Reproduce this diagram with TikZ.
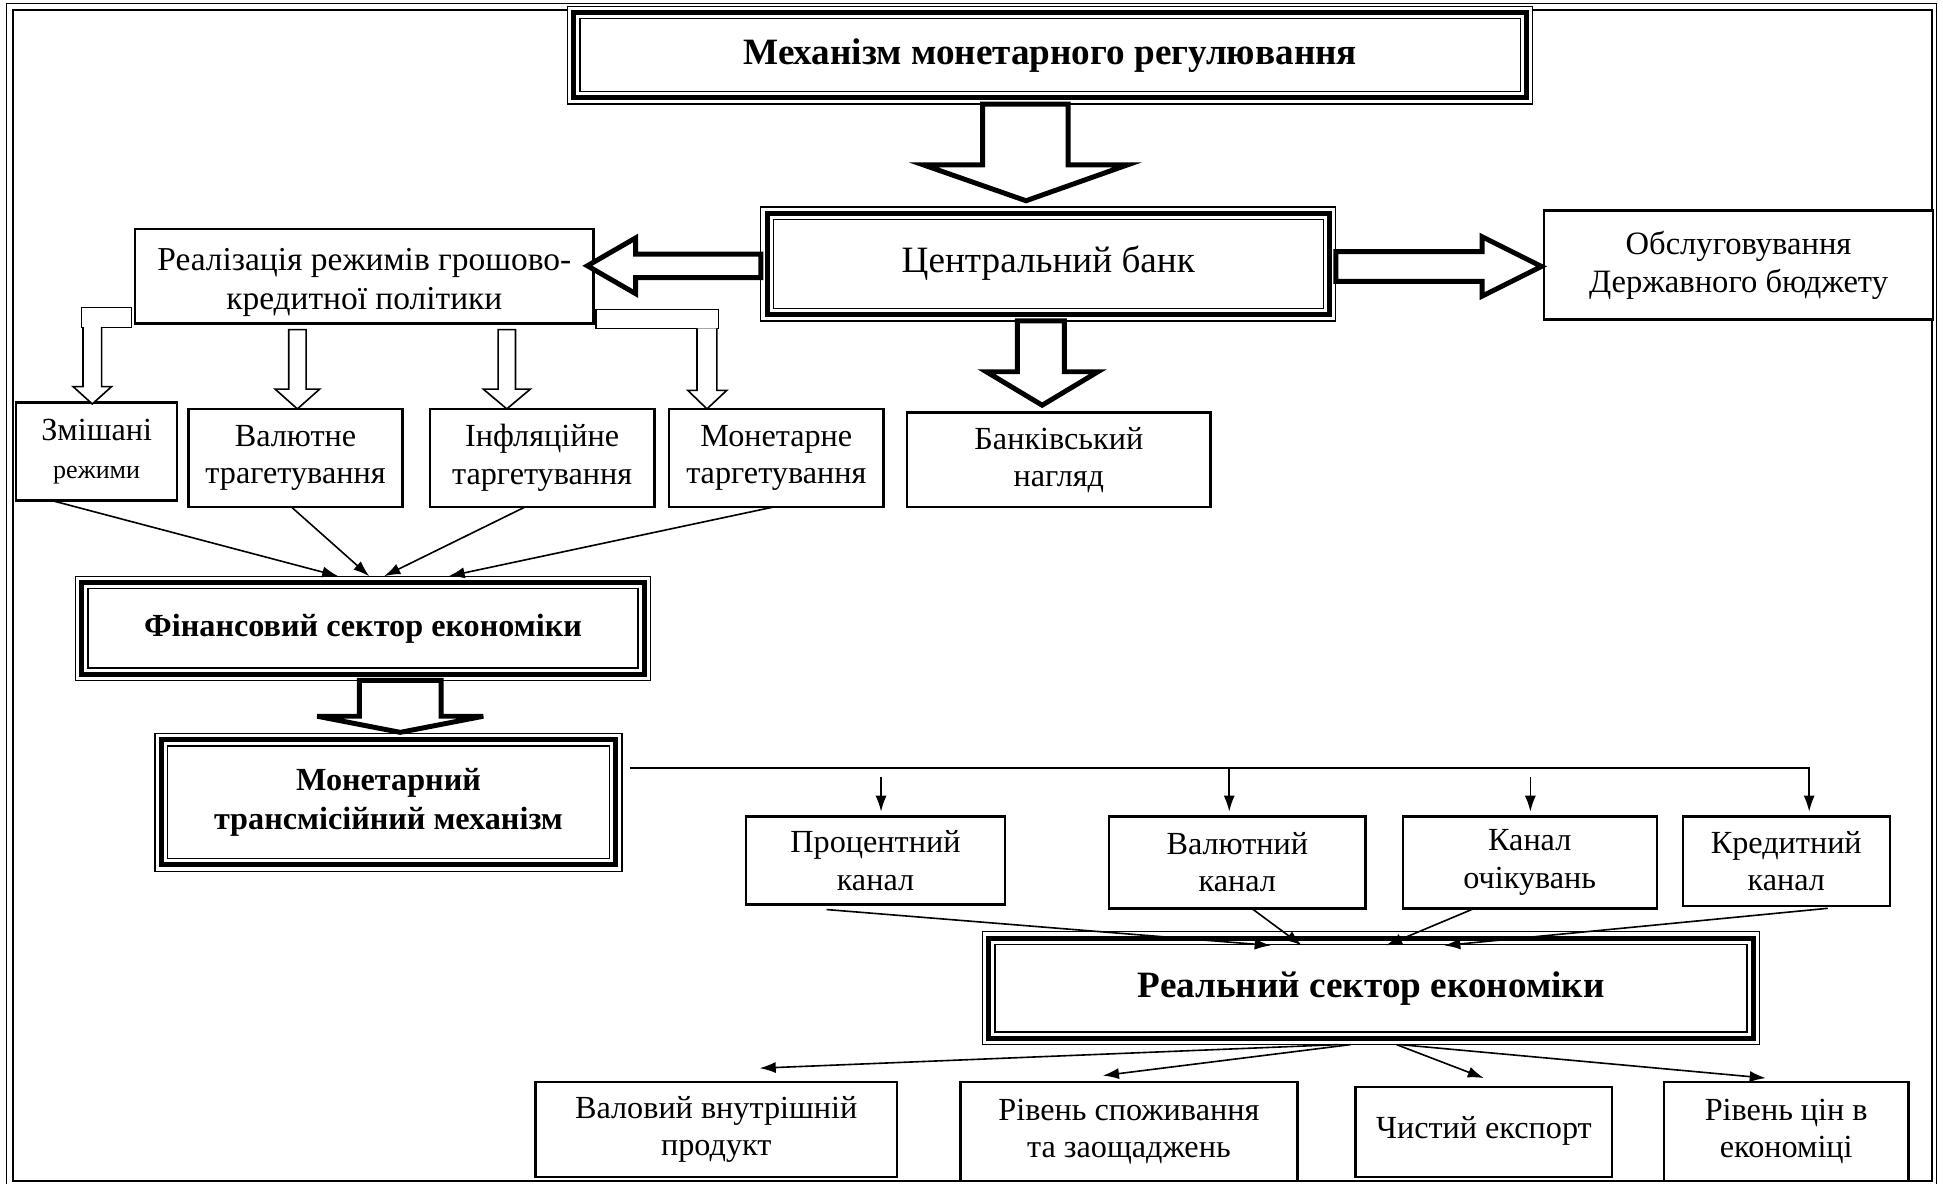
\documentclass[tikz,border=0pt]{standalone}
\usepackage{fontspec}
\setmainfont{Liberation Serif}
\usetikzlibrary{arrows.meta,calc}
\newcommand{\tframe}[1]{%
 \draw[line width=4pt] ([shift={(5pt,-5pt)}]#1.north west) rectangle ([shift={(-5pt,5pt)}]#1.south east);
 \draw[line width=1.2pt] ([shift={(10pt,-10pt)}]#1.north west) rectangle ([shift={(-10pt,10pt)}]#1.south east);}
\begin{document}
\begin{tikzpicture}[x=1pt,y=-1pt,
 box/.style={draw, line width=2pt, inner sep=2pt, outer sep=0pt, align=center, fill=white, font=\fontsize{26}{30}\selectfont},
 tribox/.style={draw, line width=1pt, inner sep=2pt, outer sep=0pt, align=center, fill=white, font=\bfseries\fontsize{27}{32}\selectfont},
 hollow/.style={draw, fill=white, line width=4pt, line join=miter},
 hollowthin/.style={draw, fill=white, line width=1.3pt, line join=miter},
 conn/.style={line width=1.3pt, -{Latex[length=13pt,width=9pt]}},
 stub/.style={draw, line width=1pt, inner sep=0pt, outer sep=0pt, fill=white},
]
\useasboundingbox (0,0) rectangle (1568,955);
% frame
\draw[line width=1pt] (5.5,3) rectangle (1563,958);
\draw[line width=2pt] (10.5,8) rectangle (1559,953);

% top boxes
\node[tribox, minimum width=779pt, minimum height=79pt, font=\bfseries\fontsize{30}{34}\selectfont] (title) at (847.5,44.5) {Механізм монетарного регулювання};
\tframe{title}
\node[tribox, minimum width=464pt, minimum height=92pt, font=\fontsize{30}{34}\selectfont] (cb) at (846,213) {\raisebox{8pt}{Центральний банк}};
\tframe{cb}
\node[box, minimum width=370pt, minimum height=76pt] (realiz) at (294,223) {};
\node[align=center, inner sep=0pt, font=\fontsize{27}{31}\selectfont] (realizt) at ([yshift=-5pt]realiz.center) {Реалізація режимів грошово-\\кредитної політики};
\node[box, minimum width=314pt, minimum height=88pt, font=\fontsize{26.3}{31}\selectfont] (obsl) at (1403,214) {Обслуговування\\Державного бюджету};

% hollow arrows
\draw[hollow] (793,84) -- (793,133) -- (745,133) -- (828,162) -- (910,133) -- (862,133) -- (862,84) -- cycle;
\draw[hollow] (614,205) -- (513,205) -- (513,192) -- (474,214.5) -- (513,237) -- (513,224) -- (614,224) -- cycle;
\draw[hollow] (1078,203) -- (1196,203) -- (1196,191) -- (1244,215) -- (1196,239) -- (1196,227) -- (1078,227) -- cycle;
\draw[hollow] (821,259) -- (821,300) -- (796,300) -- (841,327) -- (886,300) -- (859,300) -- (859,259) -- cycle;

% stubs
\node[stub, minimum width=40pt, minimum height=16pt] (s1) at (86,256) {};
\node[stub, minimum width=99pt, minimum height=15pt] (s2) at (530.5,257.5) {};

% second row boxes
\node[box, minimum width=130pt, minimum height=79pt] (zm) at (78,364.5) {Змішані\\{\fontsize{21}{24}\selectfont режими}};
\node[box, minimum width=173pt, minimum height=79pt] (val) at (238.5,369.5) {Валютне\\трагетування};
\node[box, minimum width=181pt, minimum height=79pt] (inf) at (437.5,369.5) {Інфляційне\\таргетування};
\node[box, minimum width=173pt, minimum height=79pt] (mon) at (626.5,369.5) {Монетарне\\таргетування};
\node[box, minimum width=245pt, minimum height=76pt] (bank) at (854.5,371) {Банківський\\нагляд};

% small hollow arrows
\draw[hollowthin] (67,264) -- (67,312) -- (59,312) -- (74.5,326) -- (90,312) -- (82,312) -- (82,264);
\draw[hollowthin] (233,266) -- (233,314) -- (222,314) -- (240,330) -- (258,314) -- (247,314) -- (247,266) -- cycle;
\draw[hollowthin] (402,266) -- (402,314) -- (390,314) -- (409,330) -- (428,314) -- (416,314) -- (416,266) -- cycle;
\draw[hollowthin] (562.5,265) -- (562.5,315) -- (555,315) -- (570.5,330) -- (586.5,315) -- (578.5,315) -- (578.5,265);

% financial sector
\node[tribox, minimum width=464pt, minimum height=84pt, font=\bfseries\fontsize{26}{30}\selectfont] (fin) at (293,507) {Фінансовий сектор економіки};
\tframe{fin}
\draw[conn] ([xshift=-36pt]zm.south) -- ([xshift=-20pt]fin.north);
\draw[conn] ([xshift=-3.5pt]val.south) -- ([xshift=5pt]fin.north);
\draw[conn] ([xshift=-13.5pt]inf.south) -- ([xshift=17pt]fin.north);
\draw[conn] ([xshift=-1.5pt]mon.south) -- ([xshift=69pt]fin.north);

% monetary transmission
\node[tribox, minimum width=377pt, minimum height=111pt, font=\bfseries\fontsize{26}{32}\selectfont] (mtm) at (313.5,647.5) {Монетарний\\трансмісійний механізм};
\tframe{mtm}
\draw[hollow] (290,549) -- (290,578) -- (256,578) -- (323,591) -- (390,578) -- (356,578) -- (356,549) -- cycle;

% channels
\node[box, minimum width=209pt, minimum height=71pt] (proc) at (706.5,694.5) {Процентний\\канал};
\node[box, minimum width=207pt, minimum height=74pt] (val2) at (998.5,696) {Валютний\\канал};
\node[box, minimum width=205pt, minimum height=74pt] (ocz) at (1234.5,696) {Канал\\очікувань};
\node[box, minimum width=167pt, minimum height=72pt] (kred) at (1441.5,695) {Кредитний\\канал};

\coordinate (hl) at ([xshift=6pt,yshift=27.5pt]mtm.east);
\coordinate (t1) at ([xshift=4.5pt,yshift=4pt]proc.north);
\coordinate (t2) at ([xshift=-6.5pt,yshift=4pt]val2.north);
\coordinate (t3) at ([xshift=0.5pt,yshift=4pt]ocz.north);
\coordinate (t4) at ([xshift=18.5pt,yshift=4pt]kred.north);
\draw[conn] (hl) -| (t4);
\draw[conn] (t2 |- hl) -- (t2);
\draw[conn] ([yshift=-7pt]t1 |- hl) -- (t1);
\draw[conn] ([yshift=-7pt]t3 |- hl) -- (t3);

% real sector
\node[tribox, minimum width=627pt, minimum height=91pt, font=\bfseries\fontsize{30}{34}\selectfont] (real) at (1106.5,797.5) {\raisebox{5pt}{Реальний сектор економіки}};
\tframe{real}
\draw[conn] ([xshift=-39.5pt,yshift=-4pt]proc.south) -- ([xshift=-81pt,yshift=-11pt]real.north);
\draw[conn] ([xshift=11.5pt]val2.south) -- ([xshift=-56pt,yshift=-11pt]real.north);
\draw[conn] ([xshift=-44.5pt]ocz.south) -- ([xshift=12pt,yshift=-11pt]real.north);
\draw[conn] ([xshift=33.5pt,yshift=-2pt]kred.south) -- ([xshift=59pt,yshift=-11pt]real.north);

% outcome boxes
\node[box, minimum width=292pt, minimum height=77pt] (vvp) at (578,911.5) {Валовий внутрішній\\продукт};
\node[box, minimum width=272pt, minimum height=80pt] (spoz) at (911,913) {Рівень споживання\\та заощаджень};
\node[box, minimum width=207pt, minimum height=73pt] (chyst) at (1197.5,913.5) {\raisebox{8pt}{Чистий експорт}};
\node[box, minimum width=197pt, minimum height=80pt] (tsin) at (1441.5,913) {Рівень цін в\\економіці};

\draw[conn] ([xshift=-26.5pt]real.south) -- ([xshift=35pt,yshift=11pt]vvp.north);
\draw[conn] ([xshift=-16.5pt]real.south) -- ([xshift=-21pt,yshift=5pt]spoz.north);
\draw[conn] ([xshift=20.5pt]real.south) -- ([yshift=7pt]chyst.north);
\draw[conn] ([xshift=23.5pt]real.south) -- ([xshift=-16.5pt,yshift=3pt]tsin.north);
\end{tikzpicture}
\end{document}
